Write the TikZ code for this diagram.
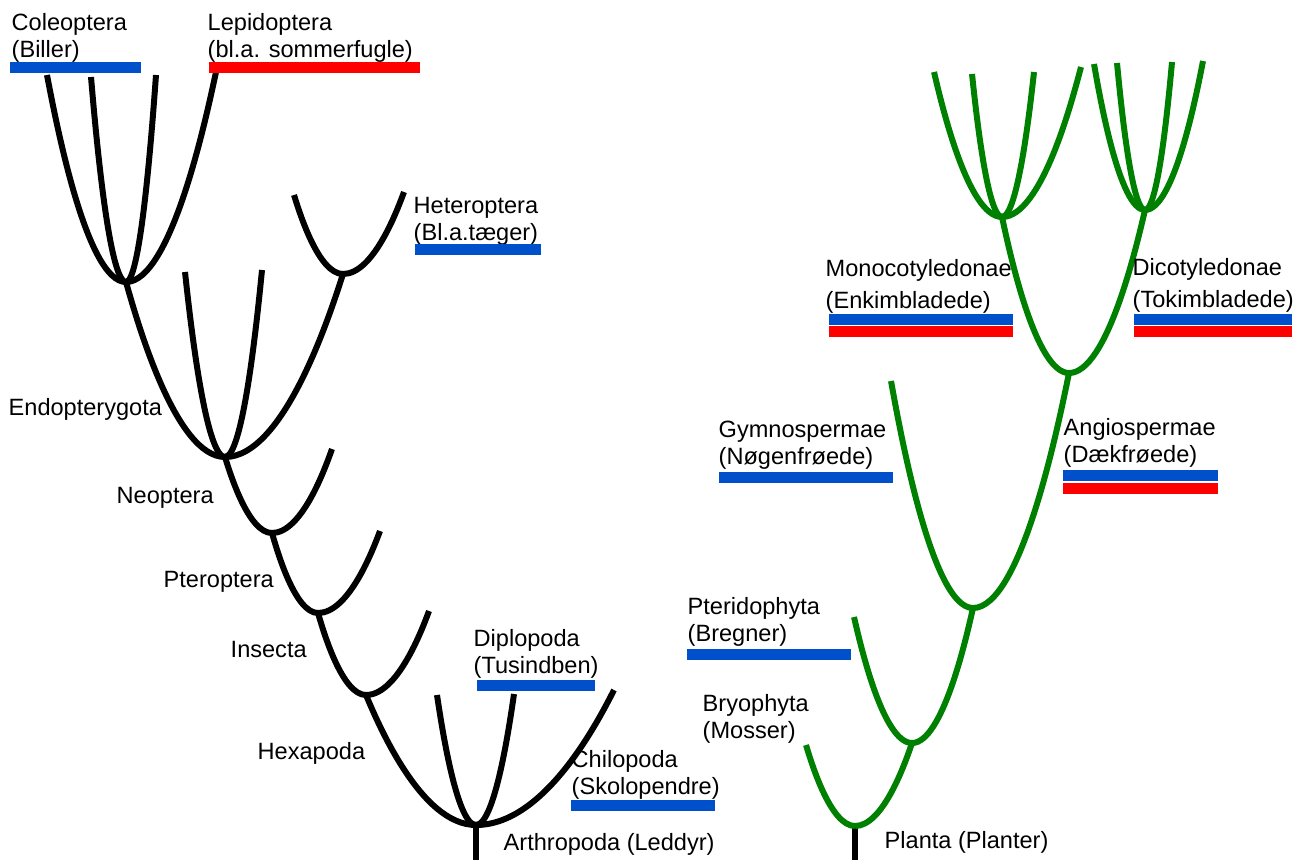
\documentclass[tikz,border=0pt]{standalone}
\usepackage{fontspec}
\setmainfont{Liberation Sans}
\definecolor{barblue}{HTML}{0050CC}
\definecolor{barred}{HTML}{FF0000}
\definecolor{plantgreen}{HTML}{008000}

\begin{document}
\begin{tikzpicture}[x=0.01cm,y=-0.01cm,
    insect/.style={line width=1.7pt,black},
    plant/.style={line width=1.7pt,plantgreen},
    stem/.style={line width=1.9pt,black},
    lbl/.style={anchor=base west,inner sep=0pt,align=left,font=\fontsize{6.7pt}{7.6pt}\selectfont},
    wide/.style={font=\fontsize{6.7pt}{9pt}\selectfont},
    bluebar/.style={fill=barblue},
    redbar/.style={fill=barred}]
  \useasboundingbox (0,0) rectangle (1307,860);

  % arthropods
  \coordinate (arth) at (476,825);
  \coordinate (arthbase) at (476,860);
  \coordinate (ins) at (366,695);
  \coordinate (pter) at (318,613);
  \coordinate (neo) at (272,533);
  \coordinate (endo) at (225,457);
  \coordinate (cole) at (126,282);
  \coordinate (het) at (343,274);
  \coordinate (dip1) at (437,695);
  \coordinate (dip2) at (514,694);
  \coordinate (chil) at (614,690);
  \coordinate (instip) at (429,611);
  \coordinate (ptertip) at (380,531);
  \coordinate (neotip) at (332,449);
  \coordinate (endo1) at (185,272);
  \coordinate (endo2) at (262,270);
  \coordinate (cole1) at (47,75);
  \coordinate (cole2) at (91,77);
  \coordinate (cole3) at (156,75);
  \coordinate (cole4) at (216,72);
  \coordinate (het1) at (294,195);
  \coordinate (het2) at (404,192);

  \draw[stem] (arth) -- (arthbase);
  \foreach \t in {ins,dip1,dip2,chil} \draw[insect] (arth) parabola (\t);
  \draw[insect] (ins) parabola (pter) (ins) parabola (instip);
  \draw[insect] (pter) parabola (neo) (pter) parabola (ptertip);
  \draw[insect] (neo) parabola (endo) (neo) parabola (neotip);
  \foreach \t in {cole,endo1,endo2,het} \draw[insect] (endo) parabola (\t);
  \foreach \t in {cole1,cole2,cole3,cole4} \draw[insect] (cole) parabola (\t);
  \draw[insect] (het) parabola (het1) (het) parabola (het2);

  % plants
  \coordinate (plan) at (855,826);
  \coordinate (planbase) at (855,860);
  \coordinate (bryo) at (806,745);
  \coordinate (fern) at (912,743);
  \coordinate (ferntip) at (854,617);
  \coordinate (seed) at (973,608);
  \coordinate (gymno) at (891,381);
  \coordinate (angio) at (1069,373);
  \coordinate (mono) at (1002,217);
  \coordinate (dico) at (1145,210);
  \coordinate (mono1) at (934,72);
  \coordinate (mono2) at (972,74);
  \coordinate (mono3) at (1034,72);
  \coordinate (mono4) at (1081,67);
  \coordinate (dico1) at (1094,64);
  \coordinate (dico2) at (1117,63);
  \coordinate (dico3) at (1172,62);
  \coordinate (dico4) at (1203,61);

  \draw[stem] (plan) -- (planbase);
  \draw[plant] (plan) parabola (bryo) (plan) parabola (fern);
  \draw[plant] (fern) parabola (ferntip) (fern) parabola (seed);
  \draw[plant] (seed) parabola (gymno) (seed) parabola (angio);
  \draw[plant] (angio) parabola (mono) (angio) parabola (dico);
  \foreach \t in {mono1,mono2,mono3,mono4} \draw[plant] (mono) parabola (\t);
  \foreach \t in {dico1,dico2,dico3,dico4} \draw[plant] (dico) parabola (\t);

  % labels and bars (two-line labels sit on their last line)
  \node[lbl] (colelbl) at (11,57) {Coleoptera\\(Biller)};
  \fill[bluebar] (10,62) rectangle (141,73);
  \node[lbl] (lepilbl) at (207,57) {Lepidoptera\\(bl.a. sommerfugle)};
  \fill[redbar] (209,62) rectangle (420,73);
  \node[lbl] (hetlbl) at (413,240) {Heteroptera\\(Bl.a.tæger)};
  \fill[bluebar] (415,244) rectangle (541,255);
  \node[lbl] (endolbl) at (8,415) {Endopterygota};
  \node[lbl] (neolbl) at (116,503) {Neoptera};
  \node[lbl] (pterlbl) at (163,587) {Pteroptera};
  \node[lbl] (inslbl) at (230,657) {Insecta};
  \node[lbl] (hexlbl) at (257,759) {Hexapoda};
  \node[lbl] (diplbl) at (473,673) {Diplopoda\\(Tusindben)};
  \fill[bluebar] (477,680) rectangle (595,691);
  \node[lbl] (chillbl) at (571,794) {Chilopoda\\(Skolopendre)};
  \fill[bluebar] (571,800) rectangle (715,811);
  \node[lbl] (arthlbl) at (503,850) {Arthropoda (Leddyr)};

  \node[lbl] (bryolbl) at (702,738) {Bryophyta\\(Mosser)};
  \node[lbl] (planlbl) at (884,848) {Planta (Planter)};
  \node[lbl] (fernlbl) at (687,641) {Pteridophyta\\(Bregner)};
  \fill[bluebar] (687,649) rectangle (851,660);
  \node[lbl] (gymnolbl) at (718,464) {Gymnospermae\\(Nøgenfrøede)};
  \fill[bluebar] (719,472) rectangle (893,483);
  \node[lbl] (angiolbl) at (1063,462) {Angiospermae\\(Dækfrøede)};
  \fill[bluebar] (1063,470) rectangle (1218,481);
  \fill[redbar] (1063,483) rectangle (1218,494);
  \node[lbl,wide] (monolbl) at (825,308) {Monocotyledonae\\(Enkimbladede)};
  \fill[bluebar] (829,314) rectangle (1013,325);
  \fill[redbar] (829,326) rectangle (1013,337);
  \node[lbl,wide] (dicolbl) at (1132,307) {Dicotyledonae\\(Tokimbladede)};
  \fill[bluebar] (1134,314) rectangle (1292,325);
  \fill[redbar] (1134,326) rectangle (1292,337);
\end{tikzpicture}
\end{document}
